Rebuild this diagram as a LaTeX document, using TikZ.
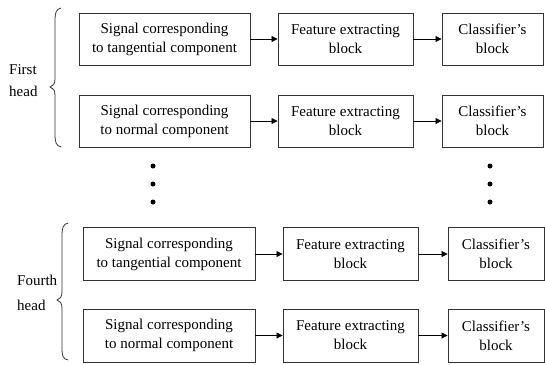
\documentclass[tikz,border=0pt]{standalone}
\usepackage{fontspec}
\setmainfont{Liberation Serif}
\usetikzlibrary{arrows.meta}
\begin{document}
\begin{tikzpicture}[x=1bp,y=-1bp,
  blockbox/.style={draw=black!80,line width=0.9bp,align=center,inner sep=0pt,
    font=\fontsize{15bp}{19bp}\selectfont},
  topbox/.style={blockbox,minimum height=52bp},
  lowbox/.style={blockbox,minimum height=53bp},
  flow/.style={draw=black,line width=0.8bp,-{Triangle[length=6bp,width=6bp]}},
  label/.style={anchor=west,inner sep=0pt,font=\fontsize{15bp}{18bp}\selectfont},
  bracepath/.style={draw=black!80,line width=0.8bp},
  dot/.style={circle,fill=black,inner sep=0pt,minimum size=5bp}]
\useasboundingbox (0,0) rectangle (545,364);

% First head
\node[topbox,minimum width=171bp] (s1) at (164.5,39) {Signal corresponding\\to tangential component};
\node[topbox,minimum width=135bp] (f1) at (345.5,39) {Feature extracting\\block};
\node[topbox,minimum width=101bp] (c1) at (492.5,39) {Classifier's\\block};
\node[topbox,minimum width=171bp] (s2) at (164.5,121) {Signal corresponding\\to normal component};
\node[topbox,minimum width=135bp] (f2) at (345.5,121) {Feature extracting\\block};
\node[topbox,minimum width=101bp] (c2) at (492.5,121) {Classifier's\\block};
\draw[flow] (s1) -- (f1);
\draw[flow] (f1) -- (c1);
\draw[flow] (s2) -- (f2);
\draw[flow] (f2) -- (c2);

\draw[bracepath] (61,8) .. controls (56,9) and (55,13) .. (55,21) -- (55,79)
  .. controls (55,84) and (53,86) .. (50,87) .. controls (53,88) and (55,90) .. (55,95)
  -- (55,134) .. controls (55,142) and (56,146) .. (61,147);
\node[label] (first) at (9,70) {First};
\node[label] (head1) at (9,91) {head};

% continuation dots
\node[dot] (dl1) at (153,166) {};
\node[dot] (dl2) at (153,184) {};
\node[dot] (dl3) at (153,202) {};
\node[dot] (dr1) at (490,166) {};
\node[dot] (dr2) at (490,184) {};
\node[dot] (dr3) at (490,202) {};

% Fourth head
\node[lowbox,minimum width=172bp] (s3) at (169,254) {Signal corresponding\\to tangential component};
\node[lowbox,minimum width=135bp] (f3) at (350.5,254) {Feature extracting\\block};
\node[lowbox,minimum width=96bp] (c3) at (496,254) {Classifier's\\block};
\node[lowbox,minimum width=172bp] (s4) at (169,335.5) {Signal corresponding\\to normal component};
\node[lowbox,minimum width=135bp] (f4) at (350.5,335.5) {Feature extracting\\block};
\node[lowbox,minimum width=96bp] (c4) at (496,335.5) {Classifier's\\block};
\draw[flow] (s3) -- (f3);
\draw[flow] (f3) -- (c3);
\draw[flow] (s4) -- (f4);
\draw[flow] (f4) -- (c4);

\draw[bracepath] (68,223) .. controls (63,224) and (62,228) .. (62,236) -- (62,292)
  .. controls (62,297) and (60,299) .. (57,300) .. controls (60,301) and (62,303) .. (62,308)
  -- (62,348) .. controls (62,356) and (63,359) .. (68,360);
\node[label] (fourth) at (17,280) {Fourth};
\node[label] (head4) at (17,305) {head};
\end{tikzpicture}
\end{document}
